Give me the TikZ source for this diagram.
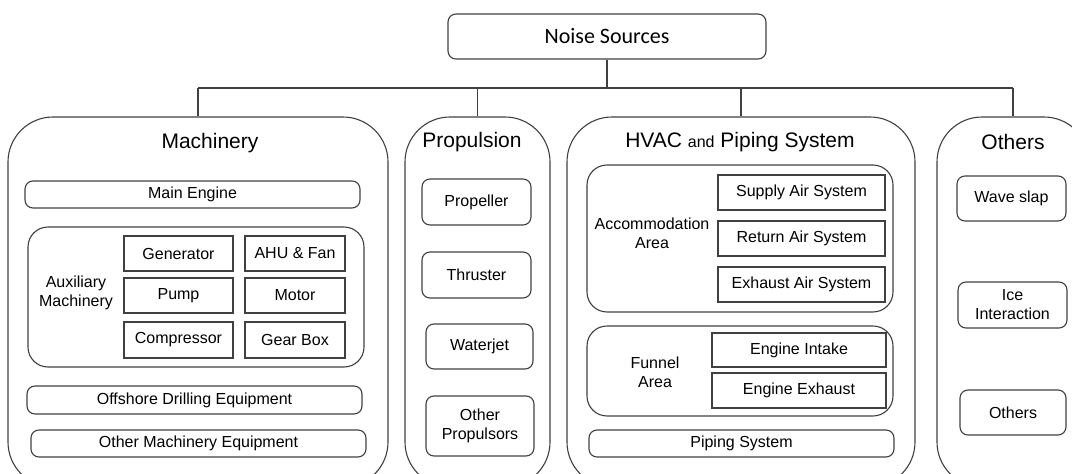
\documentclass[tikz,border=0pt]{standalone}
\usepackage{fontspec}
\setmainfont{Liberation Sans}
\newfontfamily\topfont{Carlito}
\usepackage{tikz}
\usetikzlibrary{positioning}

\tikzset{
    line/.style={draw=black!75, line width=1.1pt},
    bigbox/.style={line, rounded corners=45pt, inner sep=0pt},
    group/.style={line, rounded corners=20pt, inner sep=0pt},
    rbox/.style={line, rounded corners=8pt, inner sep=0pt, align=center,
        font=\fontsize{16}{19}\selectfont},
    item/.style={line, inner sep=0pt, align=center,
        font=\fontsize{16}{19}\selectfont},
    heading/.style={font=\fontsize{21}{24}\selectfont, inner sep=0pt},
    label/.style={align=center, inner sep=0pt, font=\fontsize{16}{19}\selectfont}
}

\begin{document}
\begin{tikzpicture}[x=1pt, y=-1pt]
        \clip (0,0) rectangle (1072,474);

        % Root
        \node[line, rounded corners=8pt, minimum width=318pt, minimum height=45pt,
            font=\topfont\fontsize{22}{26}\selectfont] (ns) at (607,36.5) {Noise Sources};

        % The four categories
        \node[bigbox, minimum width=380pt, minimum height=370pt] (mach) at (198,302) {};
        \node[bigbox, minimum width=145pt, minimum height=370pt] (prop) at (477.5,302) {};
        \node[bigbox, minimum width=348pt, minimum height=370pt] (hvac) at (741,302) {};
        \node[bigbox, minimum width=152pt, minimum height=370pt] (oth) at (1013,302) {};

        \node[heading] (machT) at (210,143) {Machinery};
        \node[heading] (propT) at (472,142) {Propulsion};
        \node[heading] (hvacT) at (740,142) {HVAC {\fontsize{16}{19}\selectfont and} Piping System};
        \node[heading] (othT) at (1013,142) {Others};

        % Tree lines
        \coordinate (bus) at (0,88);
        \draw[line] (ns.south) -- (ns.south |- bus);
        \draw[line] (mach.north |- bus) -- (oth.north |- bus);
        \foreach \n in {mach,prop,hvac,oth}
            \draw[line] (\n.north |- bus) -- (\n.north);

        % Machinery
        \node[rbox, minimum width=335pt, minimum height=27pt] (mainEng) at (192.5,194.5) {Main Engine};
        \node[group, minimum width=336pt, minimum height=140pt] (aux) at (196,297) {};
        \node[label] (auxT) at (76,293) {Auxiliary\\Machinery};
        \node[item, minimum width=109pt, minimum height=35pt] (gen) at (178.5,253.5) {Generator};
        \node[item, minimum width=100pt, minimum height=35pt] (ahu) at (295,253.5) {AHU \& Fan};
        \node[item, minimum width=109pt, minimum height=35pt] (pump) at (178.5,295.5) {Pump};
        \node[item, minimum width=100pt, minimum height=35pt] (motor) at (295,295.5) {Motor};
        \node[item, minimum width=109pt, minimum height=36pt] (comp) at (178.5,340) {Compressor};
        \node[item, minimum width=100pt, minimum height=36pt] (gear) at (295,340) {Gear Box};
        \node[rbox, minimum width=335pt, minimum height=28pt] (offsh) at (194.5,400) {Offshore Drilling Equipment};
        \node[rbox, minimum width=335pt, minimum height=27pt] (othMach) at (198.5,443.5) {Other Machinery Equipment};

        % Propulsion
        \node[rbox, minimum width=109pt, minimum height=46pt] (propel) at (476.5,202) {Propeller};
        \node[rbox, minimum width=109pt, minimum height=46pt] (thr) at (476.5,275) {Thruster};
        \node[rbox, minimum width=107pt, minimum height=45pt] (wjet) at (479.5,346.5) {Waterjet};
        \node[rbox, minimum width=108pt, minimum height=60pt] (othProp) at (480,426) {Other\\Propulsors};

        % HVAC and piping
        \node[group, minimum width=306pt, minimum height=147pt] (accom) at (740,238.5) {};
        \node[label] (accomT) at (652,233) {Accommodation\\Area};
        \node[item, minimum width=167pt, minimum height=35pt] (supply) at (801.5,192.5) {Supply Air System};
        \node[item, minimum width=167pt, minimum height=35pt] (ret) at (801.5,238.5) {Return Air System};
        \node[item, minimum width=167pt, minimum height=35pt] (exh) at (801.5,284.5) {Exhaust Air System};
        \node[group, minimum width=306pt, minimum height=90pt] (funnel) at (740,371) {};
        \node[label] (funT) at (655,372) {Funnel\\Area};
        \node[item, minimum width=174pt, minimum height=34pt] (intake) at (799,350) {Engine Intake};
        \node[item, minimum width=174pt, minimum height=35pt] (exhaust) at (799,390.5) {Engine Exhaust};
        \node[rbox, minimum width=305pt, minimum height=27pt] (piping) at (741.5,443.5) {Piping System};

        % Others
        \node[rbox, minimum width=109pt, minimum height=45pt] (wave) at (1011.5,198.5) {Wave slap};
        \node[rbox, minimum width=109pt, minimum height=46pt] (ice) at (1012.5,305) {Ice\\Interaction};
        \node[rbox, minimum width=106pt, minimum height=45pt] (othIn) at (1013,412.5) {Others};
    \end{tikzpicture}
\end{document}
